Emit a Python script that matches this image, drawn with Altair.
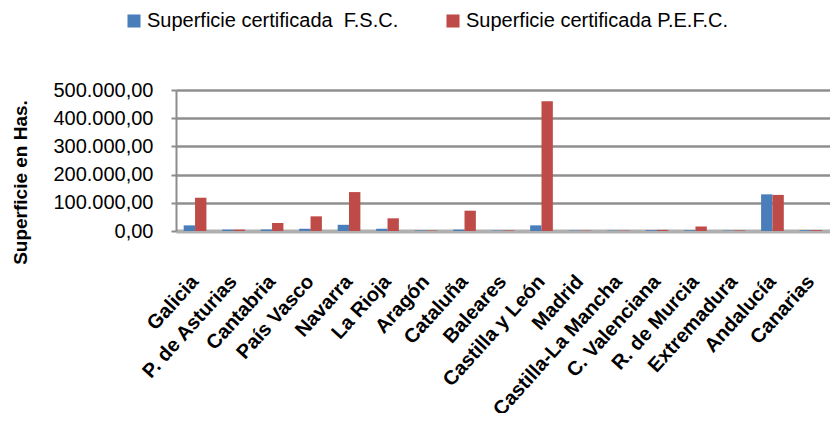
import altair as alt
import pandas as pd

categories = ["Galicia", "P. de Asturias", "Cantabria", "País Vasco", "Navarra", "La Rioja",
              "Aragón", "Cataluña", "Baleares", "Castilla y León", "Madrid", "Castilla-La Mancha",
              "C. Valenciana", "R. de Murcia", "Extremadura", "Andalucía", "Canarias"]
fsc = [20000, 5000, 5000, 8000, 22000, 8000, 2000, 5000, 1500, 20000, 1500, 1500,
       3000, 3000, 1500, 130000, 3000]
pefc = [118000, 5000, 28000, 52000, 138000, 45000, 2000, 72000, 2000, 460000, 1500, 1500,
        4000, 16000, 2000, 128000, 3000]
series = ["Superficie certificada\u00a0 F.S.C.", "Superficie certificada P.E.F.C."]
colors = ["#4A7EBB", "#BE4B48"]

rows = []
for i, c in enumerate(categories):
    rows.append({"cat": c, "serie": series[0], "val": fsc[i]})
    rows.append({"cat": c, "serie": series[1], "val": pefc[i]})
df = pd.DataFrame(rows)

FONT = "Liberation Sans, Arial, sans-serif"

label_expr = ("replace(replace(replace(format(datum.value, ',.2f'), ',', '_'), '.', ','), '_', '.')")

chart = alt.Chart(df).mark_bar().encode(
    x=alt.X("cat:N", sort=categories, title=None,
            scale=alt.Scale(paddingInner=0.41, paddingOuter=0.2),
            axis=alt.Axis(labelAngle=-48, labelAlign="right", labelBaseline="middle",
                          labelFontSize=20, labelFont=FONT, labelFontWeight="bold",
                          labelColor="#000",
                          labelPadding=47, ticks=False, domainColor="#b0b0b0",
                          domainWidth=4, labelOverlap=False, labelLimit=300)),
    xOffset=alt.XOffset("serie:N", sort=series),
    y=alt.Y("val:Q", scale=alt.Scale(domain=[0, 500000], nice=False),
            axis=alt.Axis(values=[0, 100000, 200000, 300000, 400000, 500000],
                          labelExpr=label_expr, labelFontSize=20, labelFont=FONT,
                          labelColor="#000", labelPadding=18,
                          tickColor="#8c8c8c", tickSize=5, tickWidth=2,
                          domainColor="#8c8c8c", domainWidth=2,
                          gridColor="#8f8f8f", gridWidth=2.5,
                          title="Superficie en Has.", titleFont=FONT, titleFontSize=19,
                          titleFontWeight="bold", titleColor="#000",
                          titleX=-156, titleY=92, titleAlign="center", titleAngle=-90,
                          titleBaseline="middle")),
    color=alt.Color("serie:N", sort=series,
                    scale=alt.Scale(domain=series, range=colors),
                    legend=alt.Legend(title=None, orient="none", legendX=-52, legendY=-79,
                                      direction="horizontal", symbolType="square",
                                      symbolSize=170, symbolStrokeWidth=0, labelOffset=3,
                                      labelFont=FONT, labelFontSize=20, labelColor="#000",
                                      columnPadding=44, labelLimit=400)),
).properties(
    width=654, height=141,
    autosize=alt.AutoSizeParams(type="none"),
    padding={"left": 168, "top": 82, "right": 0, "bottom": 182},
).configure_view(stroke=None).configure(background="white")

chart.save("out.html", embed_options={"renderer": "svg", "actions": False})
